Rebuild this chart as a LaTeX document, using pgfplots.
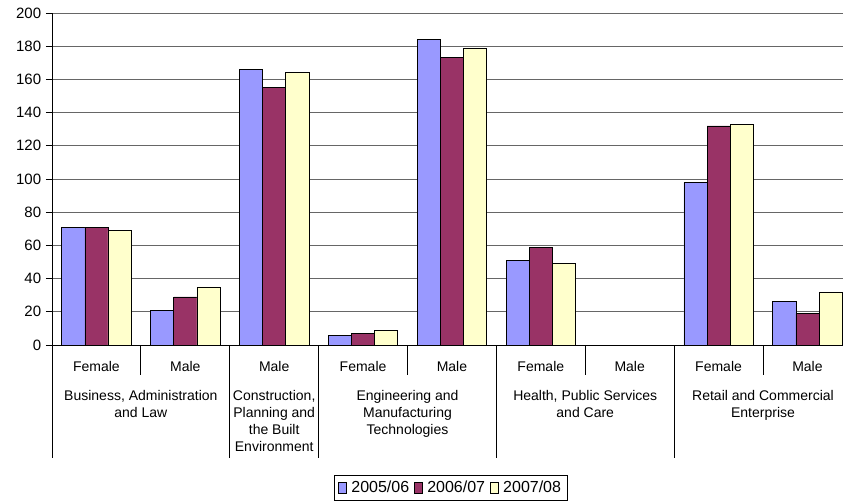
\documentclass[border=0pt]{standalone}
\usepackage{fontspec}
\setmainfont{Liberation Sans}
\usepackage{pgfplots}
\pgfplotsset{compat=1.18}
\usetikzlibrary{calc}
\definecolor{cA}{HTML}{9999FF}
\definecolor{cB}{HTML}{993366}
\definecolor{cC}{HTML}{FFFFCC}

\begin{document}
\begin{tikzpicture}
\fontsize{14bp}{17bp}\selectfont
\begin{axis}[
    name=ax,
    scale only axis,
    width=791bp, height=332bp,
    xmin=-0.5, xmax=8.4,
    ymin=0, ymax=200,
    ytick={0,20,...,200},
    xtick={0,...,8},
    xticklabels={Female,Male,Male,Female,Male,Female,Male,Female,Male},
    major x tick style={draw=none},
    axis x line*=bottom, axis y line*=left,
    axis line style={black, line width=0.8bp},
    ymajorgrids=true,
    grid style={black!60, line width=0.8bp},
    tick align=outside, major tick length=6bp,
    tick style={black, line width=0.8bp},
    /pgf/number format/assume math mode=true,
    xticklabel style={font=\fontsize{14bp}{17bp}\selectfont, yshift=-5bp},
    yticklabel style={font=\fontsize{15bp}{17bp}\selectfont, xshift=0bp},
    clip=false,
    ybar=0pt, bar width=0.26,
    every axis plot/.append style={draw=black, line width=0.7bp},
    legend style={at={(0.504,-0.431)}, anchor=center, legend columns=3,
        draw=black, line width=0.8bp, inner xsep=4bp, inner ysep=3.5bp,
        font=\fontsize{16bp}{19bp}\selectfont,
        /tikz/every odd column/.append style={column sep=3bp},
        /tikz/every even column/.append style={column sep=3bp}},
    legend image code/.code={\draw[#1, line width=0.6bp] (0bp,-5.5bp) rectangle (7.5bp,5.5bp);},
]

\addplot[fill=cA, bar shift=-0.26] coordinates {
    (0,71) (1,21) (2,166) (3,6) (4,184) (5,51) (7,98) (8,26)
};
\addplot[fill=cB, bar shift=0] coordinates {
    (0,71) (1,29) (2,155) (3,7) (4,173) (5,59) (7,132) (8,19)
};
\addplot[fill=cC, bar shift=0.26] coordinates {
    (0,69) (1,35) (2,164) (3,9) (4,179) (5,49) (7,133) (8,32)
};
\legend{2005/06,2006/07,2007/08}

% category separators
\pgfplotsinvokeforeach{0.5,3.5,5.5,7.5}{
    \draw[black, line width=0.8bp] (axis cs:#1,0) -- ++(0pt,-30bp);
}
\pgfplotsinvokeforeach{-0.5,1.5,2.5,4.5,6.5}{
    \draw[black, line width=0.8bp] (axis cs:#1,0) -- ++(0pt,-113bp);
}

% group labels
\tikzset{grp/.style={anchor=north, inner sep=0pt, align=center, yshift=-45bp,
    font=\fontsize{14bp}{17bp}\selectfont}}
\node[grp] at (axis cs:0.5,0) {Business, Administration\\and Law};
\node[grp] at (axis cs:2,0) {Construction,\\Planning and\\the Built\\Environment};
\node[grp] at (axis cs:3.5,0) {Engineering and\\Manufacturing\\Technologies};
\node[grp] at (axis cs:5.5,0) {Health, Public Services\\and Care};
\node[grp] at (axis cs:7.5,0) {Retail and Commercial\\Enterprise};
\end{axis}
\pgfresetboundingbox
\path ($(ax.south west)+(-52bp,-158bp)$) rectangle ($(ax.south west)+(791bp,345bp)$);
\end{tikzpicture}
\end{document}
